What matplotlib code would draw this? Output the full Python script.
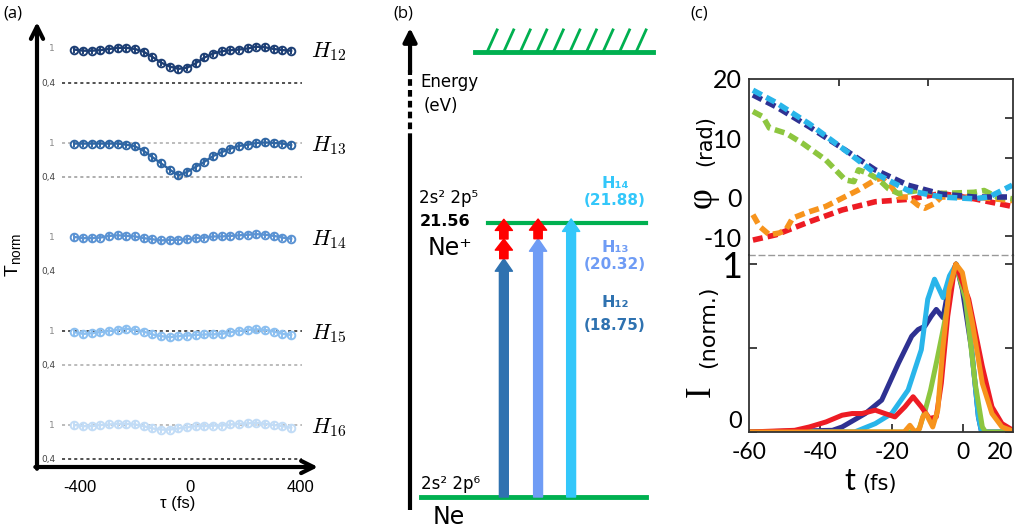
import numpy as np
import matplotlib.pyplot as plt

W, H = 1019, 531


def fx(px):
    return px / W


def fy(py):
    return 1 - py / H


# ---------------- (a) cross-correlation traces ----------------
tau = np.arange(26) * 31.5 - 420
tau_ticks = [-400, 0, 400]
harm_names = ['12', '13', '14', '15', '16']
T12 = [0.99, 0.97, 0.97, 0.98, 1.00, 1.02, 1.02, 1.00, 0.95, 0.86, 0.76, 0.69, 0.65,
       0.67, 0.75, 0.85, 0.92, 0.96, 0.98, 0.99, 1.01, 1.04, 1.03, 1.00, 0.98, 0.97]
T13 = [0.99, 0.99, 0.99, 0.99, 0.99, 0.99, 0.97, 0.94, 0.86, 0.75, 0.64, 0.53, 0.43,
       0.49, 0.58, 0.67, 0.77, 0.84, 0.90, 0.95, 0.97, 1.00, 1.01, 1.00, 0.99, 0.96]
T14 = [1.00, 0.98, 0.98, 0.99, 1.02, 1.03, 1.02, 1.01, 0.98, 0.96, 0.94, 0.95, 0.95,
       0.96, 0.98, 0.99, 1.01, 1.01, 1.02, 1.03, 1.04, 1.05, 1.04, 1.02, 0.99, 0.97]
T15 = [0.98, 0.95, 0.96, 0.98, 1.00, 1.02, 1.04, 1.02, 0.99, 0.94, 0.91, 0.89, 0.91,
       0.92, 0.93, 0.94, 0.94, 0.95, 0.98, 1.00, 1.02, 1.03, 1.02, 0.99, 0.95, 0.93]
T16 = [1.00, 0.98, 0.98, 1.00, 1.01, 1.02, 1.02, 1.01, 0.98, 0.94, 0.92, 0.92, 0.94,
       0.96, 0.98, 0.98, 0.99, 0.99, 1.01, 1.02, 1.03, 1.04, 1.02, 1.00, 0.98, 0.95]
traces = [T12, T13, T14, T15, T16]
trace_colors = ['#1d3f75', '#2f66a4', '#5b93d3', '#8bbff0', '#c2dcf6']
# which reference levels get a dashed guide: (level, colour)
guides = [[(0.4, '#222222')],
          [(1, '#aaaaaa'), (0.4, '#999999')],
          [],
          [(1, '#222222'), (0.4, '#aaaaaa')],
          [(1, '#aaaaaa'), (0.4, '#222222')]]
stack = 1.658

# ---------------- (b) energy levels (eV) ----------------
E_ion = 21.56
E_cont = 35.0
harm_E = [18.75, 20.32, 21.88]
harm_lbl = ['H₁₂', 'H₁₃', 'H₁₄']
harm_col = ['#2f72b0', '#6f9cf5', '#33c7fa']
ir_photon = 1.55

# ---------------- (c) phase and intensity ----------------
c_navy, c_cyan, c_green, c_orange, c_red = '#2e3192', '#29b5ea', '#8dc63f', '#f7941d', '#ed1c24'

phi_t_navy = [-58.9, -52.4, -43.1, -33.9, -24.6, -15.4, -6.1, 3.1, 13.8]
phi_navy = [17.3, 15.3, 11.9, 8.3, 4.6, 2.0, 0.5, 0.0, 0.0]
phi_t_cyan = [-58.9, -52.4, -43.1, -33.9, -24.6, -15.4, -6.1, 3.1, 7.3, 13.8]
phi_cyan = [18.1, 16.0, 12.4, 8.3, 4.0, 1.1, 0.0, -0.3, 0.0, 2.0]
phi_t_green = [-58.9, -56.1, -54.3, -49.6, -45.0, -38.5, -33.0, -30.6, -29.3, -26.5,
               -23.7, -20.9, -18.1, -12.6, -6.1, 3.1, 5.9, 9.6, 13.8]
phi_green = [14.5, 13.6, 11.7, 10.8, 9.1, 6.3, 2.9, 2.6, 4.6, 4.0,
             3.0, 1.4, 0.6, 1.1, 0.6, 0.8, 1.1, 0.0, -0.3]
phi_t_orange = [-58.9, -57.0, -54.3, -51.5, -49.6, -47.8, -44.1, -38.5, -33.9, -29.3,
                -24.6, -22.8, -20.0, -18.1, -15.4, -12.6, -10.7, -8.0, -6.1, 3.1, 13.8]
phi_orange = [-3.0, -5.0, -6.4, -6.1, -5.5, -3.6, -2.7, -1.6, -0.2, 1.2,
              2.9, 3.2, 1.7, 0.0, 0.0, -1.4, -1.9, -1.1, 0.0, 0.0, -0.6]
phi_t_red = [-58.9, -52.4, -43.1, -33.9, -24.6, -15.4, -6.1, 3.1, 13.8]
phi_red = [-7.3, -6.4, -4.2, -2.2, -0.8, -0.4, 0.6, -0.3, -1.6]

I_t_navy = [-60, -36.6, -33.9, -27.4, -22.8, -18.1, -14.4, -12.6, -10.7, -8.9, -7.5,
            -5.6, -3.9, -2.0, -0.2, 2.4, 4.3, 5.2, 14]
I_navy = [0, 0.01, 0.03, 0.11, 0.19, 0.41, 0.57, 0.61, 0.63, 0.69, 0.73,
          0.68, 0.88, 1.0, 0.85, 0.49, 0.09, 0.0, 0]
I_t_cyan = [-60, -30.4, -24.6, -20.0, -15.4, -11.7, -9.9, -8.0, -5.6, -3.8, -1.9,
            0.7, 2.4, 4.3, 5.2, 14]
I_cyan = [0, 0, 0.05, 0.11, 0.25, 0.49, 0.79, 0.91, 0.80, 0.93, 1.0,
          0.83, 0.49, 0.09, 0, 0]
I_t_green = [-60, -12.6, -10.6, -9.1, -7.3, -5.4, -2.8, -2.0, 0.7, 3.4, 5.4, 6.3, 14]
I_green = [0, 0, 0.13, 0.25, 0.43, 0.63, 0.93, 1.0, 0.79, 0.29, 0.03, 0, 0]
I_t_red = [-60, -47.2, -43.1, -38.4, -33.9, -31.1, -28.3, -24.6, -21.9, -19.1, -16.3,
           -14.0, -11.7, -9.4, -7.5, -6.1, -4.3, -2.4, -2.0, 1.6, 5.4, 8.1, 10.9, 14]
I_red = [0, 0.01, 0.03, 0.06, 0.10, 0.11, 0.11, 0.13, 0.11, 0.09, 0.15,
         0.21, 0.15, 0.08, 0.09, 0.29, 0.69, 0.97, 1.0, 0.79, 0.39, 0.15, 0.05, 0.01]
I_t_orange = [-60, -16.5, -14.9, -13.5, -12.2, -11.3, -10.4, -8.5, -7.1, -5.7, -3.9,
              -2.0, -0.2, 2.6, 5.4, 8.1, 10.9, 14]
I_orange = [0, 0, 0.04, 0, 0.02, 0.09, 0.11, 0.03, 0.13, 0.49, 0.85,
            1.0, 0.95, 0.65, 0.29, 0.11, 0.03, 0.005]

fig = plt.figure(figsize=(W / 100, H / 100), dpi=100)

for lbl, px in [('(a)', 3), ('(b)', 393), ('(c)', 690)]:
    fig.text(fx(px), fy(13), lbl, fontsize=12, family='Open Sans', va='center')

# ======== panel (a) ========
ax_a = fig.add_axes([fx(37), fy(467), (318 - 37) / W, (467 - 22) / H])
ax_a.set_xlim(-556, 465)
ax_a.set_ylim(-6.372, 1.476)
for s in ax_a.spines.values():
    s.set_visible(False)
ax_a.set_yticks([])
ax_a.set_xticks(tau_ticks, labels=['-400', '0', '400'])
ax_a.tick_params(axis='x', length=0, pad=9, labelsize=12)
for t in ax_a.get_xticklabels():
    t.set_family('Liberation Sans')
ax_a.set_xlabel('τ (fs)', fontsize=12, family='Liberation Sans', labelpad=1)
arrow_kw = dict(arrowstyle='->', lw=3, color='black', mutation_scale=22, shrinkA=0, shrinkB=0)
ax_a.annotate('', xy=(0, 1), xytext=(0, -0.004), xycoords='axes fraction', arrowprops=arrow_kw)
ax_a.annotate('', xy=(1, 0), xytext=(-0.006, 0), xycoords='axes fraction', arrowprops=arrow_kw)

for k, (vals, col) in enumerate(zip(traces, trace_colors)):
    off = -stack * k
    for lvl, gcol in guides[k]:
        ax_a.plot([-465, 407], [lvl + off, lvl + off], ls=(0, (2, 2)), lw=1.1, color=gcol, zorder=1)
    ax_a.errorbar(tau, np.array(vals) + off, yerr=0.065, fmt='-o', color=col, lw=1.7, ms=5.5,
                  mfc='none', mew=1.4, elinewidth=1.4, capsize=0, zorder=3)
    ax_a.text(-491, 1 + off, '1', fontsize=6.5, color='#888888', ha='right', va='center')
    ax_a.text(-487, 0.4 + off, '0,4', fontsize=6.5, color='#444444', ha='right', va='center')
    ax_a.text(440, 0.96 + off, '$H_{%s}$' % harm_names[k], fontsize=16, math_fontfamily='cm',
              ha='left', va='center')

fig.text(fx(14), fy(255), r'T$_{\mathregular{norm}}$', rotation=90, fontsize=14,
         family='Liberation Sans', ha='center', va='center')

# ======== panel (b) ========
ax_b = fig.add_axes([fx(395), 0, 295 / W, 1])
ax_b.set_xlim(0, 1)
ax_b.set_ylim((497 - 531) / 12.71, 497 / 12.71)
ax_b.axis('off')
green = '#00b050'
x_ax = 0.051
ax_b.plot([x_ax, x_ax], [-1.0, 28.1], color='black', lw=3, solid_capstyle='butt')
ax_b.plot([x_ax, x_ax], [28.1, 33.6], color='black', lw=3, ls=(0, (1.6, 1.0)))
ax_b.annotate('', xy=(x_ax, 36.9), xytext=(x_ax, 33.4),
              arrowprops=dict(arrowstyle='-|>', lw=3, color='black', mutation_scale=20,
                              shrinkA=0, shrinkB=0))
ax_b.plot([0.271, 0.875], [E_cont, E_cont], color=green, lw=3.5)
for xh in np.linspace(0.312, 0.817, 10):
    ax_b.plot([xh, xh + 0.034], [E_cont, E_cont + 1.75], color=green, lw=2)
ax_b.plot([0.315, 0.851], [E_ion, E_ion], color=green, lw=3)
ax_b.plot([0.088, 0.851], [0, 0], color=green, lw=3.5)

xs_h = [0.369, 0.485, 0.597]
big = 'simple,head_length=0.45,head_width=0.62,tail_width=0.32'
for xh, eh, col in zip(xs_h, harm_E, harm_col):
    ax_b.annotate('', xy=(xh, eh), xytext=(xh, 0),
                  arrowprops=dict(arrowstyle=big, color=col, mutation_scale=20, shrinkA=0, shrinkB=0))
# IR photons closing the gap to the ionisation threshold
small = 'simple,head_length=0.4,head_width=0.62,tail_width=0.3'
for xh, eh in zip(xs_h[:2], harm_E[:2]):
    e = eh
    while e + 0.5 < E_ion:
        ax_b.annotate('', xy=(xh, e + ir_photon), xytext=(xh, e),
                      arrowprops=dict(arrowstyle=small, color='#ff0000', mutation_scale=20,
                                      shrinkA=0, shrinkB=0), zorder=4)
        e += ir_photon

tb = dict(family='DejaVu Sans')
ax_b.text(0.085, 32.65, 'Energy', fontsize=12, va='center', **tb)
ax_b.text(0.097, 30.8, '(eV)', fontsize=12, va='center', **tb)
ax_b.text(0.083, 23.5, '2s² 2p⁵', fontsize=12, va='center', **tb)
ax_b.text(0.085, 21.7, '21.56', fontsize=11.5, fontweight='bold', va='center', **tb)
ax_b.text(0.112, 19.6, 'Ne⁺', fontsize=17, va='center', **tb)
ax_b.text(0.088, 1.0, '2s² 2p⁶', fontsize=12, va='center', **tb)
ax_b.text(0.129, -1.55, 'Ne', fontsize=17, va='center', **tb)
lbl_E = [(15.3, 13.5), (19.6, 18.3), (24.7, 23.3)]
for (e1, e2), name, en, col in zip(lbl_E, harm_lbl, harm_E, harm_col):
    ax_b.text(0.746, e1, name, fontsize=11.5, fontweight='bold', color=col, ha='center', va='center', **tb)
    ax_b.text(0.746, e2, '(%.2f)' % en, fontsize=11, fontweight='bold', color=col,
              ha='center', va='center', **tb)

# ======== panel (c) ========
spine_col = '#333333'
ax_p = fig.add_axes([fx(749), fy(255), 264 / W, 176 / H])
ax_i = fig.add_axes([fx(749), fy(432), 264 / W, 177 / H])
for ax in (ax_p, ax_i):
    ax.set_xlim(-60, 14)
    ax.set_facecolor('none')
    for s in ax.spines.values():
        s.set_color(spine_col)
        s.set_linewidth(1.3)

dash = (0, (1.8, 0.9))
ax_p.plot(phi_t_red, phi_red, color=c_red, lw=4, ls=dash)
ax_p.plot(phi_t_orange, phi_orange, color=c_orange, lw=4, ls=dash)
ax_p.plot(phi_t_green, phi_green, color=c_green, lw=4, ls=dash)
ax_p.plot(phi_t_navy, phi_navy, color=c_navy, lw=4, ls=dash)
ax_p.plot(phi_t_cyan, phi_cyan, color=c_cyan, lw=4, ls=dash)
ax_p.set_ylim(-9.83, 20)
ax_p.spines['bottom'].set_linestyle((0, (4, 3)))
ax_p.spines['bottom'].set_color('#999999')
ax_p.spines['bottom'].set_linewidth(1)
ax_p.set_yticks([-6.8, 0, 10, 20], labels=['-10', '0', '10', '20'])
ax_p.yaxis.set_minor_locator(plt.FixedLocator([-6.67, 0, 6.67, 13.33]))
ax_p.tick_params(axis='y', which='major', length=0, pad=5, labelsize=18)
ax_p.tick_params(axis='y', which='minor', left=False, right=True, direction='in', length=6,
                 width=1.3, color=spine_col)
ax_p.set_xticks([-34.7, -9.7])
ax_p.tick_params(axis='x', bottom=False, top=True, labelbottom=False, direction='in',
                 length=5, width=1.3, color=spine_col)
for t in ax_p.get_yticklabels():
    t.set_family('Lato')

ax_i.plot(I_t_navy, I_navy, color=c_navy, lw=3.6, solid_joinstyle='round')
ax_i.plot(I_t_cyan, I_cyan, color=c_cyan, lw=3.6, solid_joinstyle='round')
ax_i.plot(I_t_green, I_green, color=c_green, lw=3.6, solid_joinstyle='round')
ax_i.plot(I_t_red, I_red, color=c_red, lw=3.6, solid_joinstyle='round')
ax_i.plot(I_t_orange, I_orange, color=c_orange, lw=3.6, solid_joinstyle='round')
ax_i.set_ylim(0, 1.054)
ax_i.spines['top'].set_visible(False)
ax_i.set_yticks([0, 0.5, 1], labels=['0', '', '1'])
ax_i.tick_params(axis='y', direction='in', left=True, right=True, length=6, width=1.3,
                 color=spine_col, pad=5, labelsize=17)
ax_i.get_yticklabels()[2].set_fontsize(26)
ax_i.get_yticklabels()[0].set_va('bottom')
ax_i.set_xticks([-60, -40, -20, 0, 10.5], labels=['-60', '-40', '-20', '0', '20'])
ax_i.tick_params(axis='x', direction='in', length=6, width=1.3, color=spine_col, pad=7,
                 labelsize=16.5)
ax_i.xaxis.get_major_ticks()[-1].tick1line.set_visible(False)
ax_i.xaxis.get_major_ticks()[0].tick1line.set_visible(False)
for t in ax_i.get_yticklabels() + ax_i.get_xticklabels():
    t.set_family('Lato')

fig.text(fx(702), fy(198), 'φ', rotation=90, fontsize=26, family='Liberation Serif',
         ha='center', va='center')
fig.text(fx(705), fy(141), '(rad)', rotation=90, fontsize=15, family='DejaVu Sans',
         ha='center', va='center')
fig.text(fx(701), fy(391), 'I', rotation=90, fontsize=25, family='Liberation Serif',
         ha='center', va='center')
fig.text(fx(708), fy(327), '(norm.)', rotation=90, fontsize=16, family='DejaVu Sans',
         ha='center', va='center')
fig.text(fx(850), fy(481), 't', fontsize=22, family='Lato', ha='center', va='center')
fig.text(fx(880), fy(484), '(fs)', fontsize=15, family='DejaVu Sans', ha='center', va='center')

fig.savefig('out.png', dpi=100)
